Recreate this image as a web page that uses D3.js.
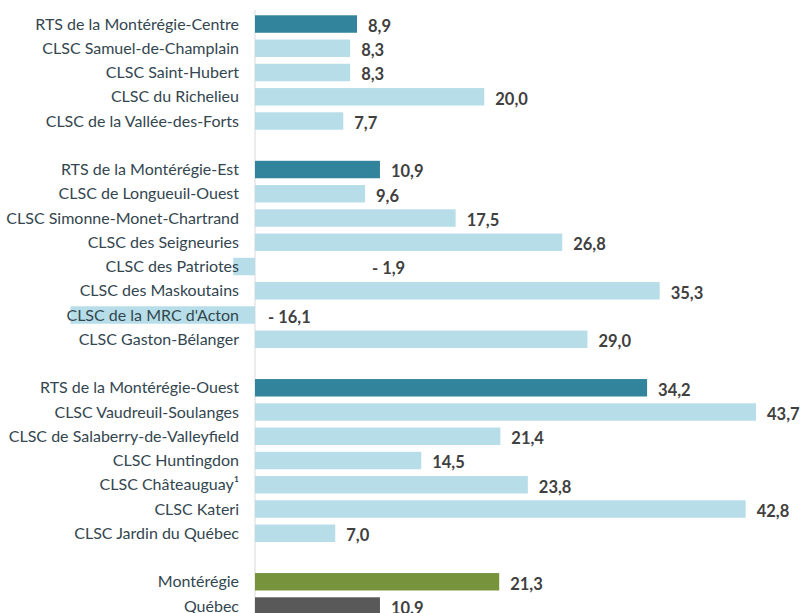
<!DOCTYPE html>
<html>
<head>
<meta charset="utf-8">
<script src="https://cdn.jsdelivr.net/npm/d3@7"></script>
<style>
  body { margin: 0; background: #fff; }
  svg { display: block; }
  .cat { font-family: Lato, "Open Sans", sans-serif; font-size: 16px; fill: #33464f; }
  .val { font-family: Lato, "Open Sans", sans-serif; font-size: 16.5px; font-weight: bold; fill: #404040; }
</style>
</head>
<body>
<div id="chart"></div>
<script>
// Categories, top to bottom (null = blank spacer row)
const categories = [
  "RTS de la Montérégie-Centre", "CLSC Samuel-de-Champlain", "CLSC Saint-Hubert",
  "CLSC du Richelieu", "CLSC de la Vallée-des-Forts", null,
  "RTS de la Montérégie-Est", "CLSC de Longueuil-Ouest", "CLSC Simonne-Monet-Chartrand",
  "CLSC des Seigneuries", "CLSC des Patriotes", "CLSC des Maskoutains",
  "CLSC de la MRC d'Acton", "CLSC Gaston-Bélanger", null,
  "RTS de la Montérégie-Ouest", "CLSC Vaudreuil-Soulanges", "CLSC de Salaberry-de-Valleyfield",
  "CLSC Huntingdon", "CLSC Châteauguay¹", "CLSC Kateri", "CLSC Jardin du Québec", null,
  "Montérégie", "Québec"
];
const values = [
  8.9, 8.3, 8.3, 20.0, 7.7, null,
  10.9, 9.6, 17.5, 26.8, -1.9, 35.3, -16.1, 29.0, null,
  34.2, 43.7, 21.4, 14.5, 23.8, 42.8, 7.0, null,
  21.3, 10.9
];
const valueLabels = [
  "8,9", "8,3", "8,3", "20,0", "7,7", null,
  "10,9", "9,6", "17,5", "26,8", "- 1,9", "35,3", "- 16,1", "29,0", null,
  "34,2", "43,7", "21,4", "14,5", "23,8", "42,8", "7,0", null,
  "21,3", "10.9"
];
// level: rts / clsc / region / province
const levels = [
  "rts", "clsc", "clsc", "clsc", "clsc", null,
  "rts", "clsc", "clsc", "clsc", "clsc", "clsc", "clsc", "clsc", null,
  "rts", "clsc", "clsc", "clsc", "clsc", "clsc", "clsc", null,
  "region", "province"
];

const colors = { rts: "#31849b", clsc: "#b7dee8", region: "#77933c", province: "#595959" };

const width = 802, height = 613;
const rows = categories.map((c, i) => ({ i, name: c, value: values[i], label: valueLabels[i], level: levels[i] }));
const data = rows.filter(d => d.name !== null);

const svg = d3.select("#chart").append("svg")
  .attr("width", width)
  .attr("height", height);

const x = d3.scaleLinear().domain([0, 43.7]).range([255, 756]);
const y = d3.scaleBand()
  .domain(rows.map(d => d.i))
  .range([11.9, 11.9 + 25 * 24.25])
  .paddingInner(0.28)
  .paddingOuter(0.14);

// vertical zero line
svg.append("line")
  .attr("x1", x(0)).attr("x2", x(0))
  .attr("y1", 10).attr("y2", height)
  .attr("stroke", "#d9d9d9")
  .attr("stroke-width", 1);

svg.append("g").selectAll("rect")
  .data(data)
  .join("rect")
  .attr("x", d => x(Math.min(0, d.value)))
  .attr("width", d => Math.abs(x(d.value) - x(0)))
  .attr("y", d => y(d.i))
  .attr("height", y.bandwidth())
  .attr("fill", d => colors[d.level]);

svg.append("g").selectAll("text")
  .data(data)
  .join("text")
  .attr("class", "cat")
  .attr("x", x(0) - 16)
  .attr("y", d => y(d.i) + y.bandwidth() / 2)
  .attr("dy", "0.35em")
  .attr("text-anchor", "end")
  .text(d => d.name);

// label nudge for the short negative bar (label sits well right of the axis)
const labelNudge = { "CLSC des Patriotes": 117 };
svg.append("g").selectAll("text")
  .data(data)
  .join("text")
  .attr("class", "val")
  .attr("x", d => d.value >= 0 ? x(d.value) + 11 : x(0) + (labelNudge[d.name] || 13))
  .attr("y", d => y(d.i) + y.bandwidth() / 2 + 2)
  .attr("dy", "0.35em")
  .text(d => d.label);
</script>
</body>
</html>
